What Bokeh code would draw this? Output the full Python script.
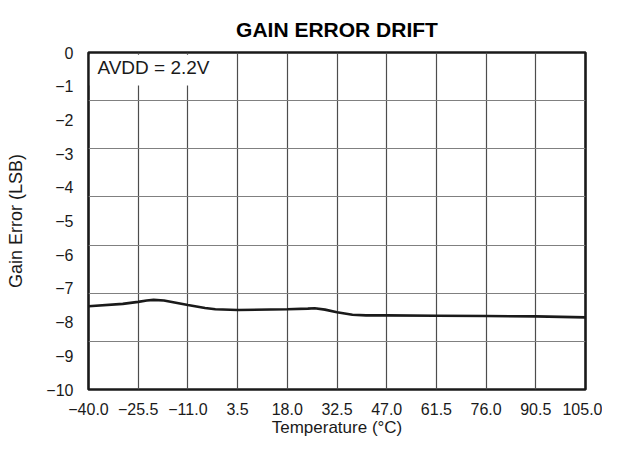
from bokeh.plotting import figure
from bokeh.models import FixedTicker, CustomJSTickFormatter, BoxAnnotation, Label, Title, ColumnDataSource
from bokeh.embed import file_html
from bokeh.resources import INLINE

# ---- data ----
temperature = [-40, -30, -25.5, -23, -21, -18, -11, -6, -3, 3.5, 18, 24, 26, 29, 32.5, 37, 41, 47, 61.5, 76, 90.5, 105]
gain_error = [-7.53, -7.46, -7.40, -7.36, -7.34, -7.36, -7.49, -7.58, -7.62, -7.64, -7.62, -7.60, -7.59, -7.63, -7.71, -7.78, -7.80, -7.80, -7.81, -7.82, -7.83, -7.86]

x_ticks = [-40.0, -25.5, -11.0, 3.5, 18.0, 32.5, 47.0, 61.5, 76.0, 90.5, 105.0]
x_tick_labels = ["\u221240.0", "\u221225.5", "\u221211.0", "3.5", "18.0", "32.5", "47.0", "61.5", "76.0", "90.5", "105.0"]
y_ticks = [0, -1, -2, -3, -4, -5, -6, -7, -8, -9, -10]
y_tick_labels = ["0", "\u22121", "\u22122", "\u22123", "\u22124", "\u22125", "\u22126", "\u22127", "\u22128", "\u22129", "\u221210"]
y_grid_lines = [-8.571, -7.143, -5.714, -4.286, -2.857, -1.429]

title_text = "GAIN ERROR DRIFT"
x_label = "Temperature (\u00b0C)"
y_label = "Gain Error (LSB)"
legend_text = "AVDD = 2.2V"

FONT = "Liberation Sans"

p = figure(width=602, height=440, output_backend="svg", toolbar_location=None,
           x_range=(-40, 105), y_range=(-10, 0),
           min_border_left=88, min_border_right=17, min_border_top=52, min_border_bottom=51)
p.title = Title(text=title_text, align="center", vertical_align="top", text_font=FONT,
                text_font_size="21px", text_font_style="bold", text_color="black", standoff=20)

src = ColumnDataSource(dict(x=temperature, y=gain_error))
p.line("x", "y", source=src, line_color="#1a1a1a", line_width=2.6)

# frame
p.outline_line_color = "#1a1a1a"
p.outline_line_width = 2.6
p.outline_line_alpha = 1.0

fmt_code = """
const i = tv.findIndex(t => Math.abs(t - tick) < 1e-6);
return i >= 0 ? lb[i] : '';
"""

for ax in (p.xaxis[0], p.yaxis[0]):
    ax.axis_line_color = None
    ax.major_tick_line_color = None
    ax.minor_tick_line_color = None
    ax.major_tick_out = 0
    ax.major_tick_in = 0
    ax.minor_tick_out = 0
    ax.minor_tick_in = 0
    ax.major_label_text_font = FONT
    ax.major_label_text_font_size = "16px"
    ax.major_label_text_color = "#1a1a1a"
    ax.axis_label_text_font = FONT
    ax.axis_label_text_font_style = "normal"
    ax.axis_label_text_color = "#1a1a1a"

p.xaxis.ticker = FixedTicker(ticks=x_ticks)
p.xaxis.formatter = CustomJSTickFormatter(args=dict(tv=x_ticks, lb=x_tick_labels), code=fmt_code)
p.xaxis.major_label_standoff = 13
p.xaxis.axis_label = x_label
p.xaxis.axis_label_standoff = 0
p.xaxis.axis_label_text_font_size = "17px"

p.yaxis.ticker = FixedTicker(ticks=y_ticks)
p.yaxis.formatter = CustomJSTickFormatter(args=dict(tv=y_ticks, lb=y_tick_labels), code=fmt_code)
p.yaxis.major_label_standoff = 15
p.yaxis.axis_label = y_label
p.yaxis.axis_label_standoff = 17
p.yaxis.axis_label_text_font_size = "18px"

p.xgrid.ticker = FixedTicker(ticks=x_ticks)
p.ygrid.ticker = FixedTicker(ticks=y_grid_lines)
p.xgrid.grid_line_color = "#4d4d4d"
p.ygrid.grid_line_color = "#808080"
p.xgrid.grid_line_width = 1.2
p.ygrid.grid_line_width = 1.2

# legend box (covers grid)
p.add_layout(BoxAnnotation(left=-39.6, right=-3.0, top=-0.07, bottom=-0.98,
                           fill_color="white", fill_alpha=1.0, line_color=None, level="underlay"))
p.add_layout(Label(x=-37.4, y=-0.44, text=legend_text, text_font=FONT, text_font_size="19px",
                   text_color="#1a1a1a", text_baseline="middle"))

p.background_fill_color = "white"
p.border_fill_color = "white"

open("out.html", "w").write(file_html(p, INLINE))
